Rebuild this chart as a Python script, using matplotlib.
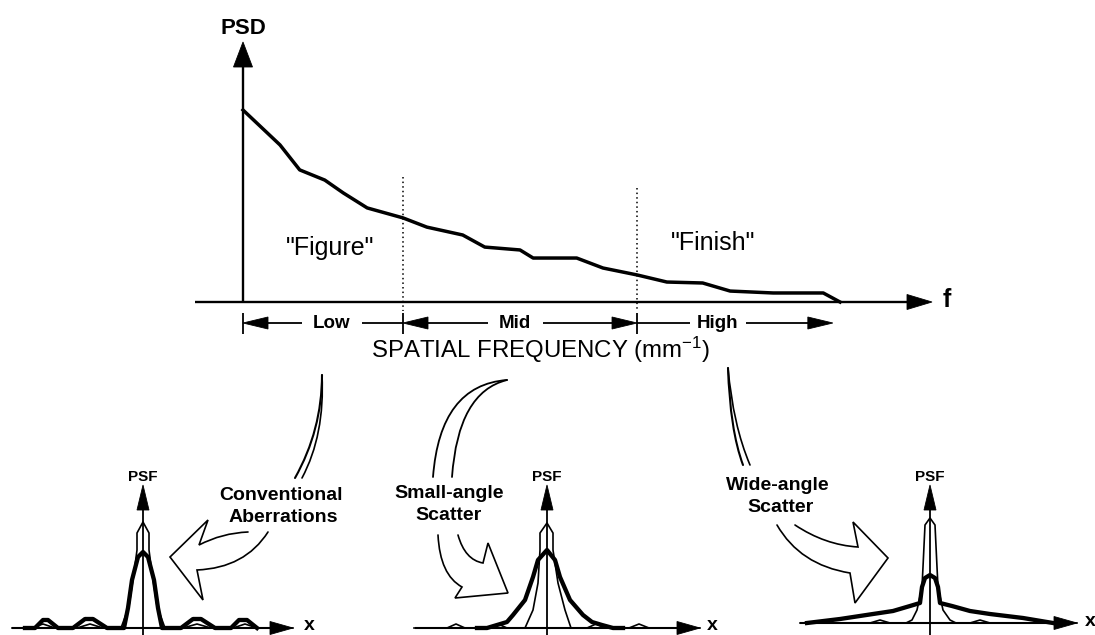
import math
import matplotlib
matplotlib.use('Agg')
import matplotlib.pyplot as plt
from matplotlib.patches import Polygon, PathPatch
from matplotlib.path import Path

plt.rcParams['font.family'] = ['Liberation Sans', 'DejaVu Sans']
plt.rcParams['mathtext.fontset'] = 'custom'
plt.rcParams['mathtext.rm'] = 'Liberation Sans'
plt.rcParams['mathtext.it'] = 'Liberation Sans:italic'
plt.rcParams['mathtext.bf'] = 'Liberation Sans:bold'

# ---------------- data ----------------
# PSD curve (normalised spatial frequency, normalised PSD)
psd_f = [0.000, 0.062, 0.095, 0.137, 0.168, 0.208, 0.268, 0.308, 0.368, 0.405,
         0.464, 0.486, 0.559, 0.603, 0.660, 0.710, 0.770, 0.816, 0.888, 0.972, 1.000]
psd_val = [1.000, 0.818, 0.688, 0.635, 0.568, 0.490, 0.438, 0.390, 0.349, 0.286,
           0.271, 0.229, 0.229, 0.177, 0.141, 0.104, 0.099, 0.057, 0.047, 0.047, 0.000]
band_edges = [0.0, 0.268, 0.660, 0.988]
band_labels = ['Low', 'Mid', 'High']
region_labels = ['"Figure"', '"Finish"']
x_label = 'SPATIAL FREQUENCY (mm$^{-1}$)'

# PSF panels: ideal (thin) and degraded (thick) profiles, offset vs height
ideal1_x = [-131, -112, -100, -88, -66, -53, -40, -22, -14, -9, -6, -6, 0, 6, 6, 9, 14, 22, 40, 54, 68, 90, 102, 114, 150]
ideal1_y = [0, 0, 4, 0, 0, 4, 0, 0, 22, 55, 78, 95, 106, 95, 78, 55, 22, 0, 0, 4, 0, 0, 4, 0, 0]
aber1_x = [-118, -108, -100, -95, -85, -70, -58, -50, -36, -19, -15, -11, -5, 0, 5, 11, 15, 19, 38, 50, 58, 72, 88, 96, 104, 114]
aber1_y = [0, 0, 8, 8, 0, 0, 9, 9, 0, 0, 20, 48, 71, 76, 71, 48, 20, 0, 0, 9, 9, 0, 0, 8, 8, 0]

ideal2_x = [-133, -100, -91, -82, -58, -49, -40, -22, -14, -9, -7, -7, 0, 6, 6, 11, 18, 24, 40, 49, 58, 82, 92, 102, 153]
ideal2_y = [0, 0, 4, 0, 0, 4, 0, 0, 18, 45, 78, 95, 105, 95, 78, 45, 18, 0, 0, 4, 0, 0, 4, 0, 0]
aber2_x = [-70, -60, -50, -40, -34, -22, -14, -9, 0, 8, 13, 23, 36, 45, 55, 66, 76]
aber2_y = [0, 0, 3, 6, 13, 28, 51, 68, 78, 68, 51, 28, 13, 6, 3, 0, 0]

ideal3_x = [-130, -60, -50, -40, -24, -18, -13, -8, -7, -5, 0, 5, 7, 8, 13, 20, 26, 40, 50, 60, 147]
ideal3_y = [0, 0, 3, 0, 0, 3, 13, 36, 56, 98, 105, 98, 56, 36, 13, 3, 0, 0, 3, 0, 0]
aber3_x = [-123, -90, -57, -37, -20, -10, -8, -5, 0, 5, 8, 10, 22, 40, 60, 93, 123]
aber3_y = [0, 4, 9, 12, 17, 20, 36, 45, 48, 45, 36, 20, 17, 12, 9, 5, 0]

panel_text = [('Conventional', 'Aberrations'), ('Small-angle', 'Scatter'), ('Wide-angle', 'Scatter')]

# ---------------- layout ----------------
W, H = 1095, 635
fig = plt.figure(figsize=(W / 100, H / 100), dpi=100)
fig.patch.set_facecolor('white')
ax = fig.add_axes([0, 0, 1, 1])
ax.set_xlim(0, W)
ax.set_ylim(H, 0)
ax.axis('off')


def px_axes(l, t, r, b):
    a = fig.add_axes([l / W, (H - b) / H, (r - l) / W, (b - t) / H])
    a.axis('off')
    a.patch.set_alpha(0)
    return a


def head(tip, d, length, width):
    n = math.hypot(*d)
    ux, uy = d[0] / n, d[1] / n
    bx, by = tip[0] - ux * length, tip[1] - uy * length
    px, py = -uy, ux
    pts = [tip, (bx + px * width / 2, by + py * width / 2), (bx - px * width / 2, by - py * width / 2)]
    ax.add_patch(Polygon(pts, closed=True, fc='k', ec='k', lw=0.6, zorder=5))


def seg(x0, y0, x1, y1, lw=1.5, **kw):
    ax.plot([x0, x1], [y0, y1], color='k', lw=lw, solid_capstyle='butt', **kw)


# ---- PSD plot ----
PX0, PX1, PY0, PYT = 243, 840, 302, 110
fx = lambda f: PX0 + f * (PX1 - PX0)
axp = px_axes(PX0, PYT, PX1, PY0)
axp.set_xlim(0, 1)
axp.set_ylim(0, 1)
axp.plot(psd_f, psd_val, color='k', lw=2.5, clip_on=False, solid_joinstyle='round', zorder=4)
for f, top in zip(band_edges[1:3], [0.65, 0.594]):
    axp.plot([f, f], [top, -0.045], color='k', lw=1.1, ls=(0, (1, 2.0)), clip_on=False)

seg(PX0, PY0, PX0, 66, lw=1.7)
head((PX0, 42), (0, -1), 25, 19)
seg(195, PY0, 910, PY0, lw=1.7)
head((932, PY0), (1, 0), 25, 15)

ax.text(PX0, 28, 'PSD', ha='center', va='center', fontsize=16, fontweight='bold')
ax.text(947, 300, 'f', ha='center', va='center', fontsize=18, fontweight='bold')
ax.text(330, 248, region_labels[0], ha='center', va='center', fontsize=18)
ax.text(713, 243, region_labels[1], ha='center', va='center', fontsize=18)

# band arrows row
RY = 323
for f in band_edges[:3]:
    seg(fx(f), 313, fx(f), 334, lw=1.3)
x0, x1, x2, x3 = [fx(f) for f in band_edges]
# Low
head((x0, RY), (-1, 0), 25, 12)
seg(x0 + 24, RY, 302, RY, lw=1.3)
seg(362, RY, x1, RY, lw=1.3)
ax.text(332, RY, band_labels[0], ha='center', va='center', fontsize=13.5, fontweight='bold')
# Mid
head((x1, RY), (-1, 0), 25, 12)
seg(x1 + 24, RY, 488, RY, lw=1.3)
seg(543, RY, x2 - 24, RY, lw=1.3)
head((x2, RY), (1, 0), 25, 12)
ax.text(515, RY, band_labels[1], ha='center', va='center', fontsize=13.5, fontweight='bold')
# High
seg(x2, RY, 690, RY, lw=1.3)
seg(746, RY, x3 - 24, RY, lw=1.3)
head((x3, RY), (1, 0), 25, 12)
ax.text(718, RY, band_labels[2], ha='center', va='center', fontsize=13.5, fontweight='bold')

ax.text(541, 350, x_label, ha='center', va='center', fontsize=17.3)

# ---- PSF panels ----
panels = [
    dict(cx=143, by=628, xl=12, xr=293, xlab=309, ideal=(ideal1_x, ideal1_y), aber=(aber1_x, aber1_y)),
    dict(cx=547, by=628, xl=415, xr=700, xlab=712, ideal=(ideal2_x, ideal2_y), aber=(aber2_x, aber2_y)),
    dict(cx=930, by=623, xl=800, xr=1077, xlab=1090, ideal=(ideal3_x, ideal3_y), aber=(aber3_x, aber3_y)),
]
for p in panels:
    cx, by = p['cx'], p['by']
    seg(p['xl'], by, p['xr'] - 20, by, lw=1.5)
    head((p['xr'], by), (1, 0), 23, 13)
    seg(cx, H, cx, 508, lw=1.3)
    head((cx, 485), (0, -1), 25, 12)
    ax.text(cx, 477, 'PSF', ha='center', va='center', fontsize=11, fontweight='bold')
    ax.text(p['xlab'], by - 2, 'x', ha='center', va='center', fontsize=14, fontweight='bold')
    a = px_axes(cx - 160, by - 115, cx + 160, by)
    a.set_xlim(-160, 160)
    a.set_ylim(0, 115)
    a.plot(*p['aber'], color='k', lw=3.1, clip_on=False, solid_joinstyle='round')
    a.plot(*p['ideal'], color='k', lw=1.2, clip_on=False, solid_joinstyle='round')

# ---- curved arrows ----
M, C3, L = Path.MOVETO, Path.CURVE3, Path.LINETO


def curve(verts, codes, lw=1.2):
    ax.add_patch(PathPatch(Path(verts, codes), fc='none', ec='k', lw=lw, capstyle='round', joinstyle='miter'))


# left (conventional aberrations)
curve([(322, 375), (322, 430), (295, 478)], [M, C3, C3], lw=1.5)
curve([(322, 375), (325, 435), (302, 478)], [M, C3, C3], lw=1.2)
curve([(248, 532), (222, 533), (199, 545), (208, 520), (170, 557), (203, 600), (197, 570), (245, 568), (268, 532)],
      [M, C3, C3, L, L, L, L, C3, C3])
# middle (small-angle scatter)
curve([(507, 380), (440, 385), (433, 477)], [M, C3, C3], lw=1.3)
curve([(507, 380), (458, 392), (452, 477)], [M, C3, C3], lw=1.3)
curve([(438, 535), (440, 575), (462, 587), (455, 598), (508, 593), (488, 543), (483, 563), (465, 560), (458, 535)],
      [M, C3, C3, L, L, L, L, C3, C3])
# right (wide-angle scatter)
curve([(728, 368), (730, 430), (743, 465)], [M, C3, C3], lw=1.5)
curve([(728, 368), (733, 425), (750, 465)], [M, C3, C3], lw=1.2)
curve([(795, 525), (825, 545), (858, 547), (853, 522), (888, 558), (855, 603), (850, 573), (800, 565), (777, 525)],
      [M, C3, C3, L, L, L, L, C3, C3])

text_pos = [((281, 496), (283, 518)), ((449, 493), (449, 516)), ((778, 485), (780, 507))]
for (l1, l2), (p1, p2) in zip(panel_text, text_pos):
    ax.text(p1[0], p1[1], l1, ha='center', va='center', fontsize=14, fontweight='bold')
    ax.text(p2[0], p2[1], l2, ha='center', va='center', fontsize=14, fontweight='bold')

fig.savefig('out.png', dpi=100, facecolor='white')
